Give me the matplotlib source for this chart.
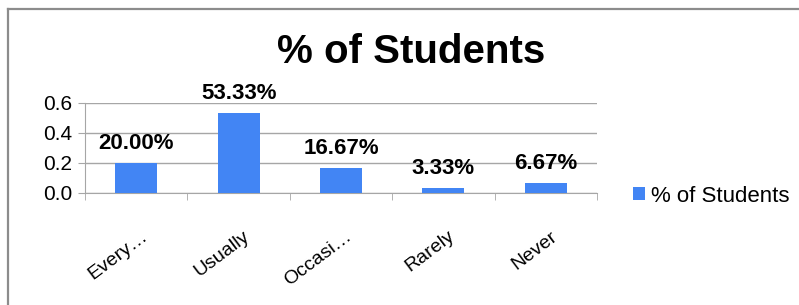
import matplotlib
matplotlib.use("Agg")
import matplotlib.pyplot as plt
import matplotlib.transforms as mtransforms
from matplotlib.lines import Line2D

plt.rcParams['font.family'] = ['Liberation Sans', 'DejaVu Sans']

# data
categories = ['Every\u2026', 'Usually', 'Occasi\u2026', 'Rarely', 'Never']
values = [0.2000, 0.5333, 0.1667, 0.0333, 0.0667]
labels = ['20.00%', '53.33%', '16.67%', '3.33%', '6.67%']
yticks = [0.0, 0.2, 0.4, 0.6]
series_name = '% of Students'

blue = '#4285f4'
grid_c = '#a6a6a6'

fig = plt.figure(figsize=(7.99, 3.05), dpi=100)
ax = fig.add_axes([85 / 799, 1 - 193 / 305, (597 - 85) / 799, 90 / 305])

x = list(range(len(categories)))
bars = ax.bar(x, values, width=0.41, color=blue, label=series_name, zorder=3)

for xi, v, lab in zip(x, values, labels):
    ax.annotate(lab, (xi, v), xytext=(0, 10), textcoords='offset points',
                ha='center', va='baseline', fontsize=16, fontweight='bold')

ax.set_xlim(-0.5, len(categories) - 0.5)
ax.set_ylim(0, 0.6)
ax.set_yticks(yticks)
ax.set_yticklabels(['%.1f' % t for t in yticks], fontsize=15)
ax.yaxis.grid(True, color=grid_c, lw=1)
ax.set_axisbelow(True)

ax.set_xticks(x)
ax.set_xticklabels(categories, fontsize=14, rotation=37, ha='right',
                   va='top', rotation_mode='anchor')
ax.set_xticks([i - 0.5 for i in range(len(categories) + 1)], minor=True)
ax.tick_params(axis='x', which='major', length=0, pad=25)
ax.tick_params(axis='x', which='minor', length=5, color=grid_c)
ax.tick_params(axis='y', length=5, color=grid_c, pad=4)
shift = mtransforms.ScaledTranslation(3 / 72, 0, fig.dpi_scale_trans)
for t in ax.get_xticklabels():
    t.set_transform(t.get_transform() + shift)

for s in ['top', 'right']:
    ax.spines[s].set_visible(False)
for s in ['left', 'bottom']:
    ax.spines[s].set_color(grid_c)

fig.text(411 / 799, 1 - 52 / 305, series_name, ha='center', va='center',
         fontsize=29, fontweight='bold')

fig.legend(handles=[bars], labels=[series_name], loc='center left',
           bbox_to_anchor=(633 / 799, 1 - 196 / 305), frameon=False,
           fontsize=16, handlelength=0.55, handleheight=0.55,
           handletextpad=0.25, borderpad=0, borderaxespad=0)

# outer chart frame (left and top edges visible)
fig.add_artist(Line2D([8 / 799, 8 / 799], [0, 1 - 9 / 305], color='#8c8c8c', lw=1.6))
fig.add_artist(Line2D([8 / 799, 1], [1 - 9 / 305, 1 - 9 / 305], color='#8c8c8c', lw=1.6))

fig.savefig('out.png', dpi=100)
